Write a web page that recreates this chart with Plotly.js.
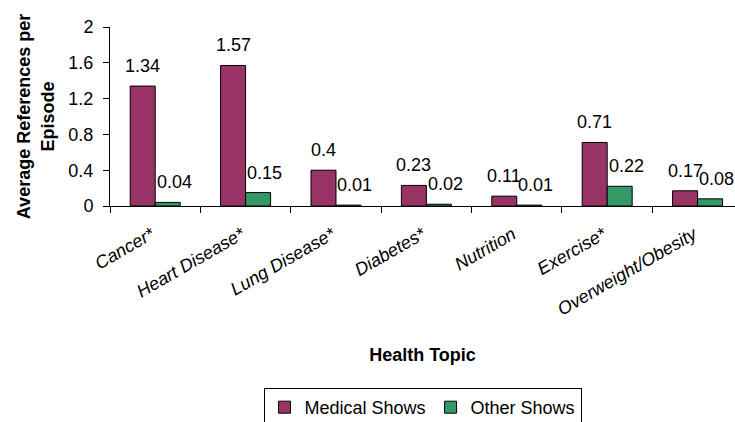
<!DOCTYPE html>
<html>
<head>
<meta charset="utf-8">
<script src="https://cdn.plot.ly/plotly-3.0.1.min.js"></script>
<style>html,body{margin:0;padding:0;background:#fff;}#chart{width:735px;height:422px;}</style>
</head>
<body>
<div id="chart"></div>
<script>
var categories = ['Cancer*', 'Heart Disease*', 'Lung Disease*', 'Diabetes*', 'Nutrition', 'Exercise*', 'Overweight/Obesity'];
var medicalShows = [1.34, 1.57, 0.4, 0.23, 0.11, 0.71, 0.17];
var otherShows = [0.04, 0.15, 0.01, 0.02, 0.01, 0.22, 0.08];
var seriesNames = ['Medical Shows', 'Other Shows'];
var yTicks = [0, 0.4, 0.8, 1.2, 1.6, 2];

var FONT = 'Arial, "Liberation Sans", sans-serif';
var traces = [
  {type: 'bar', name: seriesNames[0], x: categories, y: medicalShows,
   marker: {color: '#993366', line: {color: '#000', width: 1}}, hoverinfo: 'none'},
  {type: 'bar', name: seriesNames[1], x: categories, y: otherShows,
   marker: {color: '#339966', line: {color: '#000', width: 1}}, hoverinfo: 'none'}
];

var annotations = [];
function addLabels(vals, xs) {
  for (var i = 0; i < vals.length; i++) {
    annotations.push({x: categories[i], y: vals[i], xref: 'x', yref: 'y', text: String(vals[i]),
      showarrow: false, xanchor: 'center', yanchor: 'bottom', xshift: xs, yshift: 8,
      font: {family: FONT, size: 18, color: '#000'}});
  }
}
addLabels(medicalShows, -12.5);
addLabels(otherShows, 19);

var layout = {
  width: 735, height: 422,
  margin: {l: 110, r: 0, t: 27, b: 216},
  paper_bgcolor: '#fff', plot_bgcolor: '#fff',
  barmode: 'group', bargap: 0.447, bargroupgap: 0,
  font: {family: FONT, size: 18, color: '#000'},
  xaxis: {
    type: 'category', range: [-0.5, 6.414], tickson: 'boundaries',
    ticks: 'outside', ticklen: 6, tickcolor: '#000', showline: true, linecolor: '#000', linewidth: 1,
    tickangle: -30, tickfont: {family: FONT, size: 18, style: 'italic'},
    ticklabelstandoff: 10, ticklabelshift: -4,
    showgrid: false, zeroline: false,
    title: {text: 'Health Topic', font: {family: FONT, size: 18, weight: 'bold'}, standoff: 30}
  },
  yaxis: {
    range: [0, 2], tickvals: yTicks, ticktext: yTicks.map(String),
    ticks: 'outside', ticklen: 6, tickcolor: '#000', showline: true, linecolor: '#000', linewidth: 1,
    ticklabelstandoff: 6,
    showgrid: false, zeroline: false, tickfont: {family: FONT, size: 18},
    title: {text: 'Average References per<br>Episode', font: {family: FONT, size: 18, weight: 'bold'}, standoff: 9}
  },
  showlegend: true,
  legend: {orientation: 'h', x: 0.5, xanchor: 'center', yref: 'container', y: 0.0806, yanchor: 'top',
    bordercolor: '#000', borderwidth: 1, bgcolor: '#fff', font: {family: FONT, size: 18},
    itemwidth: 30, tracegroupgap: 0},
  annotations: annotations
};

Plotly.newPlot('chart', traces, layout, {staticPlot: true, displayModeBar: false});
</script>
</body>
</html>
